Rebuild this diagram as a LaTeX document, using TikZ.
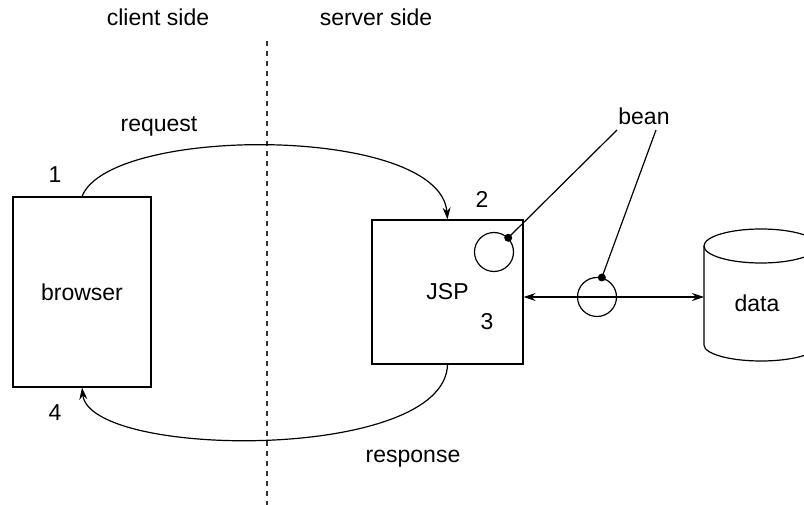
\documentclass[tikz,border=0pt]{standalone}
\usepackage{fontspec}
\setmainfont{Liberation Sans}
\usetikzlibrary{arrows.meta}
\begin{document}
\begin{tikzpicture}[x=1pt,y=-1pt,line width=1.2pt,
  font=\fontsize{23}{27}\selectfont,
  lbl/.style={anchor=base,inner sep=0pt},
  boxnode/.style={draw,inner sep=0pt},
  tipshape/.style={},
  arr/.style={-{Stealth[length=12pt,width=8pt,inset=4pt]}},
  dblarr/.style={{Stealth[length=12pt,width=8pt,inset=4pt]}-{Stealth[length=12pt,width=8pt,inset=4pt]}},
  divider/.style={draw=black!80,line width=1.1pt,dash pattern=on 5pt off 5pt},
  beanring/.style={draw,circle,inner sep=0pt,minimum size=39pt},
  beandot/.style={fill,circle,inner sep=0pt,minimum size=8pt}]
\useasboundingbox (0,0) rectangle (804,505);

% headings
\node[lbl] (client) at (158,26) {client side};
\node[lbl] (server) at (376,26) {server side};

% divider
\coordinate (divtop) at (267,41);
\coordinate (divbot) at (267,505);
\draw[divider] (divtop) -- (divbot);

% boxes
\node[boxnode,minimum width=138pt,minimum height=190pt] (browser) at (82,292) {browser};
\node[boxnode,minimum width=151pt,minimum height=144pt] (JSP) at (447.5,292) {JSP};

% numbers
\node[lbl] (n1) at (55,183) {1};
\node[lbl] (n2) at (482,208) {2};
\node[lbl] (n3) at (487,330) {3};
\node[lbl] (n4) at (55,420) {4};

% request / response
\node[lbl] (req) at (159,132) {request};
\node[lbl] (resp) at (413,462) {response};
\draw[arr] (browser.north) .. controls (110,125) and (440,125) .. (JSP.north);
\draw[arr] (JSP.south) .. controls (445,462) and (90,459) .. (browser.south);

% data cylinder
\draw (704,246) -- (704,345) arc[start angle=180,end angle=360,x radius=57pt,y radius=16pt] -- (818,246);
\draw (761,246) ellipse[x radius=57pt,y radius=17pt];
\node[lbl] (data) at (757,312) {data};
\coordinate (dataw) at (704,297);

% JSP <-> data
\draw[dblarr] (JSP.east |- dataw) -- (dataw);

% beans
\node[beanring] (bc1) at (494,252) {};
\node[beanring] (bc2) at (597,297) {};
\node[beandot] (bd1) at (bc1.45) {};
\node[beandot] (bd2) at (bc2.76) {};
\node[lbl] (bean) at (644,125) {bean};
\coordinate (bl1) at (617,130);
\coordinate (bl2) at (656,130);
\draw (bl1) -- (bd1.center);
\draw (bl2) -- (bd2.center);
\end{tikzpicture}
\end{document}
